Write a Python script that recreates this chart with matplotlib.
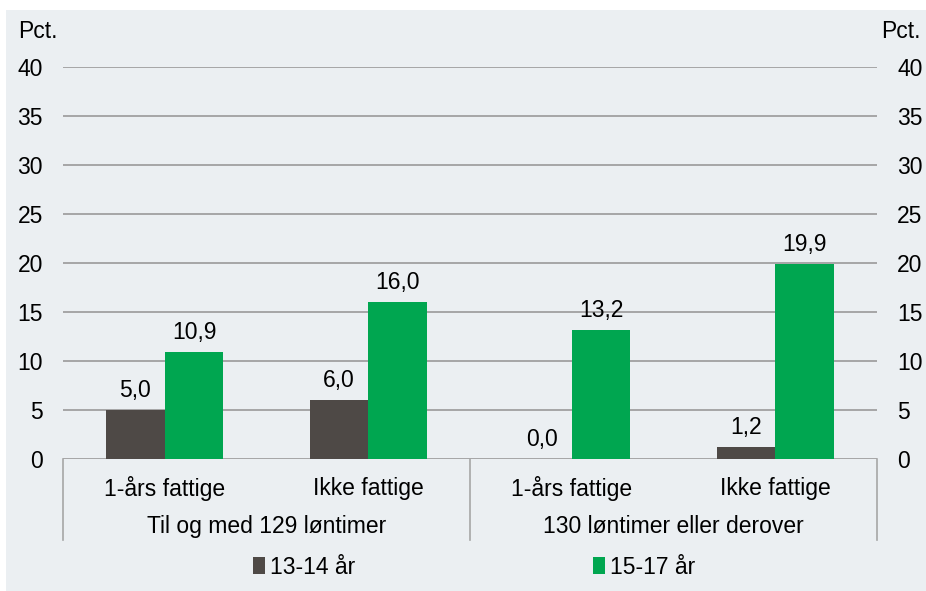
import matplotlib
matplotlib.use("Agg")
import matplotlib.pyplot as plt
from matplotlib import font_manager as fm
from matplotlib.patches import Rectangle, Patch
from matplotlib.lines import Line2D
import numpy as np

names = {f.name for f in fm.fontManager.ttflist}
FONT = "Liberation Sans Narrow" if "Liberation Sans Narrow" in names else "Liberation Sans"
plt.rcParams['font.family'] = [FONT, 'DejaVu Sans']

categories = ["1-års fattige", "Ikke fattige", "1-års fattige", "Ikke fattige"]
groups = ["Til og med 129 løntimer", "130 løntimer eller derover"]
series_names = ["13-14 år", "15-17 år"]
s1 = [5.0, 6.0, 0.0, 1.2]
s2 = [10.9, 16.0, 13.2, 19.9]
yticks = [0, 5, 10, 15, 20, 25, 30, 35, 40]

DARK = "#4E4946"
GREEN = "#00A650"
BG = "#EBEFF2"
GRID = "#A6A6A6"
FS = 16.5

W, H = 926, 591
fig = plt.figure(figsize=(W / 100, H / 100), dpi=100)
fig.patch.set_facecolor("white")
fig.patches.append(Rectangle((6 / W, 0), 1, 1 - 10 / H, transform=fig.transFigure,
                             facecolor=BG, edgecolor="none", zorder=-10))

L, R, T, B = 63, 877, 67, 459
ax = fig.add_axes([L / W, 1 - B / H, (R - L) / W, (B - T) / H])
ax.set_facecolor("none")
x = np.arange(len(categories))
bw = 0.288
ax.bar(x - bw / 2, s1, width=bw, color=DARK, zorder=3)
ax.bar(x + bw / 2, s2, width=bw, color=GREEN, zorder=3)
ax.set_xlim(-0.5, len(categories) - 0.5)
ax.set_ylim(0, 40)
ax.set_yticks(yticks)
for v in yticks:
    ax.axhline(v, color=GRID, lw=1.4, zorder=1)
for s in ax.spines.values():
    s.set_visible(False)
ax.set_xticks([])
ax.tick_params(axis='y', length=0, labelsize=FS, pad=14.4, labelright=True, labelcolor="black")
ax.set_yticklabels([str(v) for v in yticks])
for t in ax.yaxis.get_major_ticks():
    t.label1.set_horizontalalignment("right")
    t.label2.set_horizontalalignment("left")

for xi, v in zip(x, s1):
    ax.text(xi - bw / 2, v + 0.8, f"{v:.1f}".replace(".", ","), ha="center", va="bottom", fontsize=FS)
for xi, v in zip(x, s2):
    ax.text(xi + bw / 2, v + 0.8, f"{v:.1f}".replace(".", ","), ha="center", va="bottom", fontsize=FS)

tr = ax.get_xaxis_transform()
for xi, c in zip(x, categories):
    ax.text(xi, -0.074, c, ha="center", va="center", fontsize=FS, transform=tr, clip_on=False)
for gi, g in enumerate(groups):
    ax.text(gi * 2 + 0.5, -0.172, g, ha="center", va="center", fontsize=FS, transform=tr, clip_on=False)
for xs in [-0.5, 1.5, 3.5]:
    ax.add_line(Line2D([xs, xs], [0, -0.207], transform=tr, color=GRID, lw=1.2, clip_on=False))

fig.text(18 / W, 1 - 32 / H, "Pct.", ha="left", va="center", fontsize=FS)
fig.text(921 / W, 1 - 32 / H, "Pct.", ha="right", va="center", fontsize=FS)

handles = [Patch(facecolor=DARK, edgecolor="none"), Patch(facecolor=GREEN, edgecolor="none")]
fig.legend(handles, series_names, loc="center", bbox_to_anchor=(0.512, 1 - 567 / H), ncol=2,
           frameon=False, fontsize=FS, handlelength=0.52, handleheight=0.82, handletextpad=0.2,
           columnspacing=10.4)

fig.savefig("out.png", dpi=100, facecolor=fig.get_facecolor())
